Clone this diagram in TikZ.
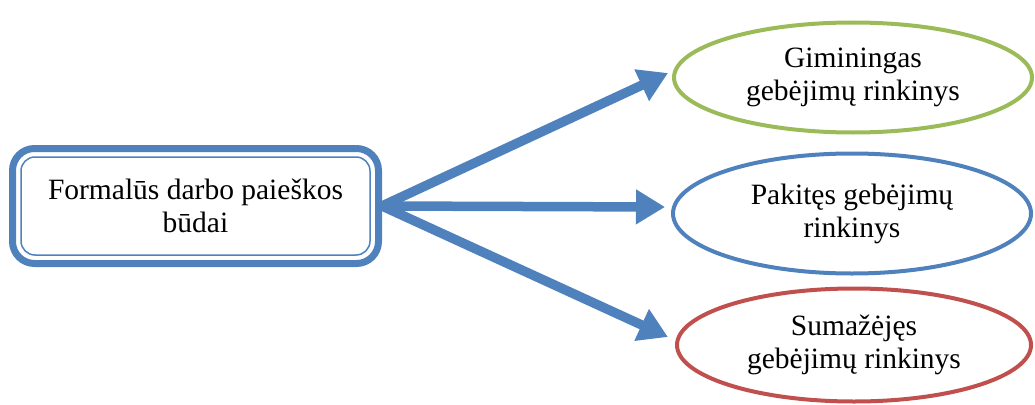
\documentclass[tikz,border=0pt]{standalone}
\usepackage{fontspec}
\setmainfont{Liberation Serif}
\usetikzlibrary{arrows.meta,shapes.geometric}
\definecolor{obl}{HTML}{4F81BD}
\definecolor{ogr}{HTML}{9BBB59}
\definecolor{ore}{HTML}{C0504D}
\tikzset{
  txt/.style={font=\fontsize{29.5}{33}\selectfont, align=center, text=black},
  srcbox/.style={txt, draw=obl, line width=7pt, rounded corners=22pt, minimum width=366pt, minimum height=115pt, inner sep=0pt},
  oval/.style={txt, ellipse, line width=4pt, inner sep=0pt},
  bigarrow/.style={draw=obl, line width=9.5pt, -{Triangle[length=29pt,width=33pt]}},
}
\begin{document}
\begin{tikzpicture}[x=1pt,y=-1pt]
\useasboundingbox (0,0) rectangle (1035,404);
\node[srcbox] (src) at (195.5,206) {Formalūs darbo paieškos\\būdai};
\draw[obl, line width=1.5pt, rounded corners=14pt] ([shift={(12,12)}]src.north west) rectangle ([shift={(-12,-12)}]src.south east);
\node[oval, draw=ogr, minimum width=358pt, minimum height=110pt] (g) at (853,77.5) {Giminingas\\gebėjimų rinkinys};
\node[oval, draw=obl, minimum width=358pt, minimum height=120pt] (b) at (852,213.5) {Pakitęs gebėjimų\\rinkinys};
\node[oval, draw=ore, minimum width=354pt, minimum height=113pt] (r) at (854,345) {Sumažėjęs\\gebėjimų rinkinys};
\coordinate (tg) at (668,73);
\coordinate (tb) at (665,207);
\coordinate (tr) at (668,337);
\draw[bigarrow] (src.east) -- (tg);
\draw[bigarrow] (src.east) -- (tb);
\draw[bigarrow] (src.east) -- (tr);
\end{tikzpicture}
\end{document}
